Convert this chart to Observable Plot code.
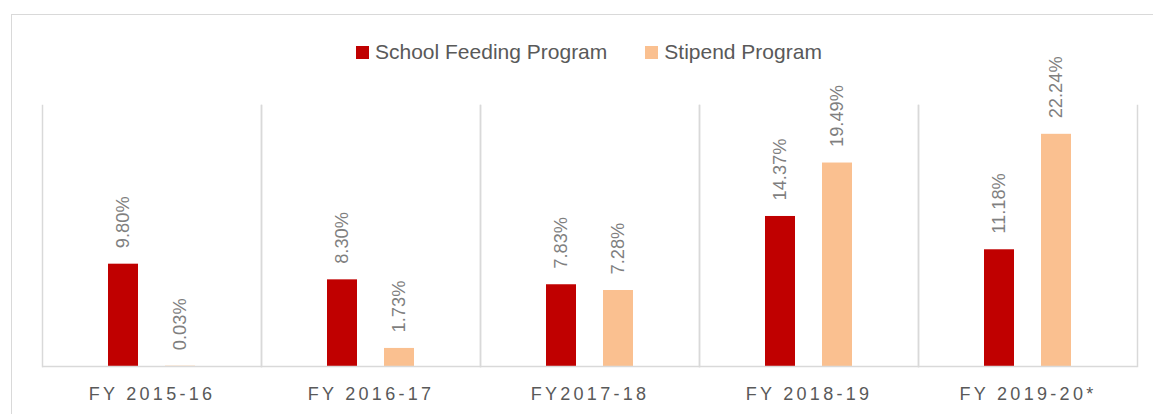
<!DOCTYPE html>
<html><head><meta charset="utf-8">
<script src="https://cdn.jsdelivr.net/npm/d3@7"></script>
<script src="https://cdn.jsdelivr.net/npm/@observablehq/plot@0.6"></script>
<style>
body{margin:0;background:#fff;width:1153px;height:414px;overflow:hidden;position:relative;font-family:"Liberation Sans",Arial,sans-serif}
#frame{position:absolute;left:11px;top:14px;width:1170px;height:430px;border:1.5px solid #d9d9d9;box-sizing:border-box;pointer-events:none}
#legend{position:absolute;top:40px;left:356px;display:flex;align-items:center;font-size:21px;color:#595959;white-space:nowrap}
#legend .sw{width:13px;height:13px;display:inline-block;margin-right:6px}
#legend .item{display:flex;align-items:center;margin-right:38px}
#chart{position:absolute;left:0;top:0}
#chart svg{overflow:visible}
#chart g[aria-label="fx-axis tick label"] text{letter-spacing:3.3px}
</style>
</head><body>
<div id="chart"></div>
<div id="frame"></div>
<div id="legend"></div>
<script>
const years = ["FY 2015-16","FY 2016-17","FY2017-18","FY 2018-19","FY 2019-20*"];
const programs = ["School Feeding Program","Stipend Program"];
const feeding = [9.80, 8.30, 7.83, 14.37, 11.18];
const stipend = [0.03, 1.73, 7.28, 19.49, 22.24];
const colors = ["#c00000","#fac090"];

const data = years.flatMap((y,i)=>[
  {year:y, program:programs[0], value:feeding[i]},
  {year:y, program:programs[1], value:stipend[i]}
]);

const leg = document.getElementById("legend");
programs.forEach((p,i)=>{
  const it=document.createElement("div");it.className="item";
  const sw=document.createElement("span");sw.className="sw";sw.style.background=colors[i];
  it.appendChild(sw);it.appendChild(document.createTextNode(p));leg.appendChild(it);
});

const chart = Plot.plot({
  width:1153, height:414,
  marginLeft:40, marginRight:15, marginTop:105, marginBottom:48,
  fx:{domain:years, padding:0, label:null},
  x:{domain:programs, paddingInner:0.474, paddingOuter:1.14, axis:null},
  y:{domain:[0,25], axis:null},
  color:{domain:programs, range:colors},
  style:{fontFamily:'"Liberation Sans",Arial,sans-serif', background:"transparent", overflow:"visible"},
  marks:[
    Plot.frame({anchor:"left", stroke:"#d9d9d9", strokeWidth:1.5}),
    Plot.frame({anchor:"right", stroke:"#d9d9d9", strokeWidth:1.5}),
    Plot.barY(data,{fx:"year", x:"program", y:"value", fill:"program"}),
    Plot.ruleY([0],{stroke:"#d9d9d9", strokeWidth:1.5}),
    Plot.text(data,{fx:"year", x:"program", y:"value", text:d=>d3.format(".2f")(d.value)+"%",
      rotate:-90, textAnchor:"start", dy:-16, fontSize:18.3, fill:"#7f7f7f"}),
    Plot.axisFx({anchor:"bottom", tickSize:0, tickPadding:21, fontSize:18, color:"#595959", label:null})
  ]
});
document.getElementById("chart").appendChild(chart);
</script>
</body></html>
